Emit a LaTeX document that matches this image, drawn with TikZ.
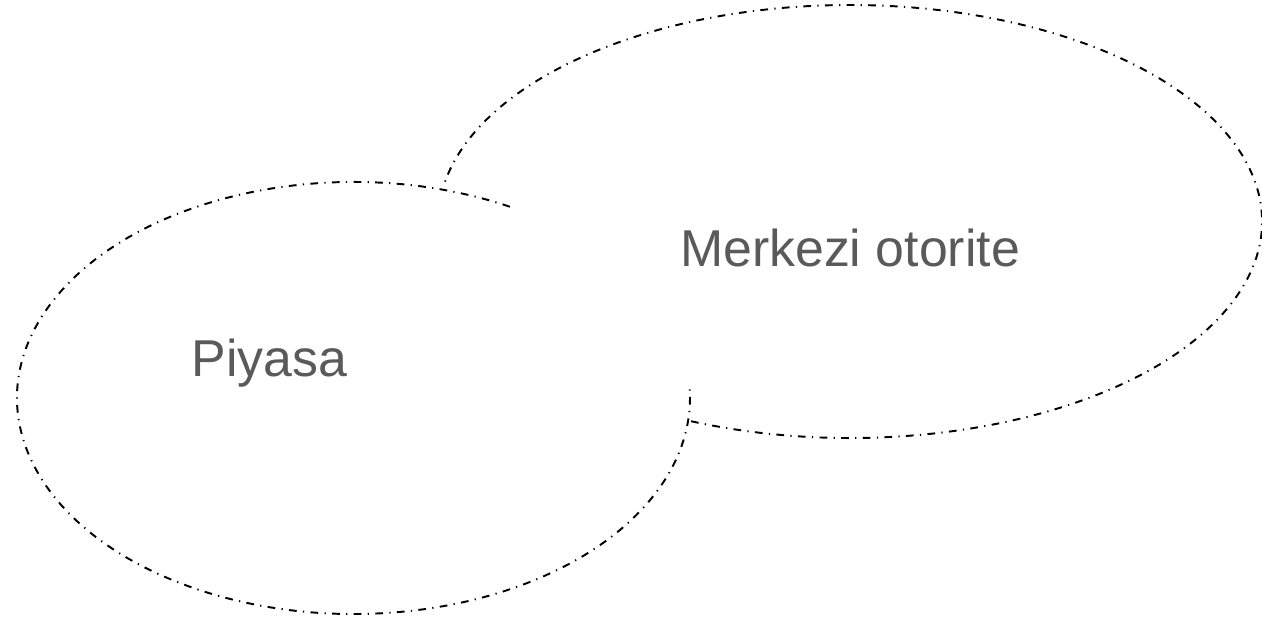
\documentclass[tikz,border=0pt]{standalone}
\usepackage{fontspec}
\setmainfont{Liberation Sans}
\usetikzlibrary{calc}
\definecolor{labelgray}{HTML}{5A5A5A}
\tikzset{
  rim/.style={line width=1.1pt, dash pattern=on 4.4pt off 3.6pt on 0.7pt off 3.6pt},
  tag/.style={text=labelgray, font=\fontsize{29.5}{34}\selectfont, inner sep=0pt, anchor=base}
}
\begin{document}
\begin{tikzpicture}[scale=1]

  \useasboundingbox (0,0) rectangle (25.24,12.42);

  \coordinate (L) at (7.07,4.46);
  \coordinate (R) at (17.0,7.99);

  % market
  \draw[rim] ($(L)+(62.3:6.73 and 4.32)$)
    arc[start angle=62.3, end angle=362.6, x radius=6.73, y radius=4.32];
  \node[tag] (piyasa) at (5.39,4.88) {Piyasa};

  % authority
  \draw[rim] ($(R)+(-112.7:8.24 and 4.33)$)
    arc[start angle=-112.7, end angle=170, x radius=8.24, y radius=4.33];
  \node[tag] (otorite) at (17.0,7.08) {Merkezi otorite};

\end{tikzpicture}
\end{document}
